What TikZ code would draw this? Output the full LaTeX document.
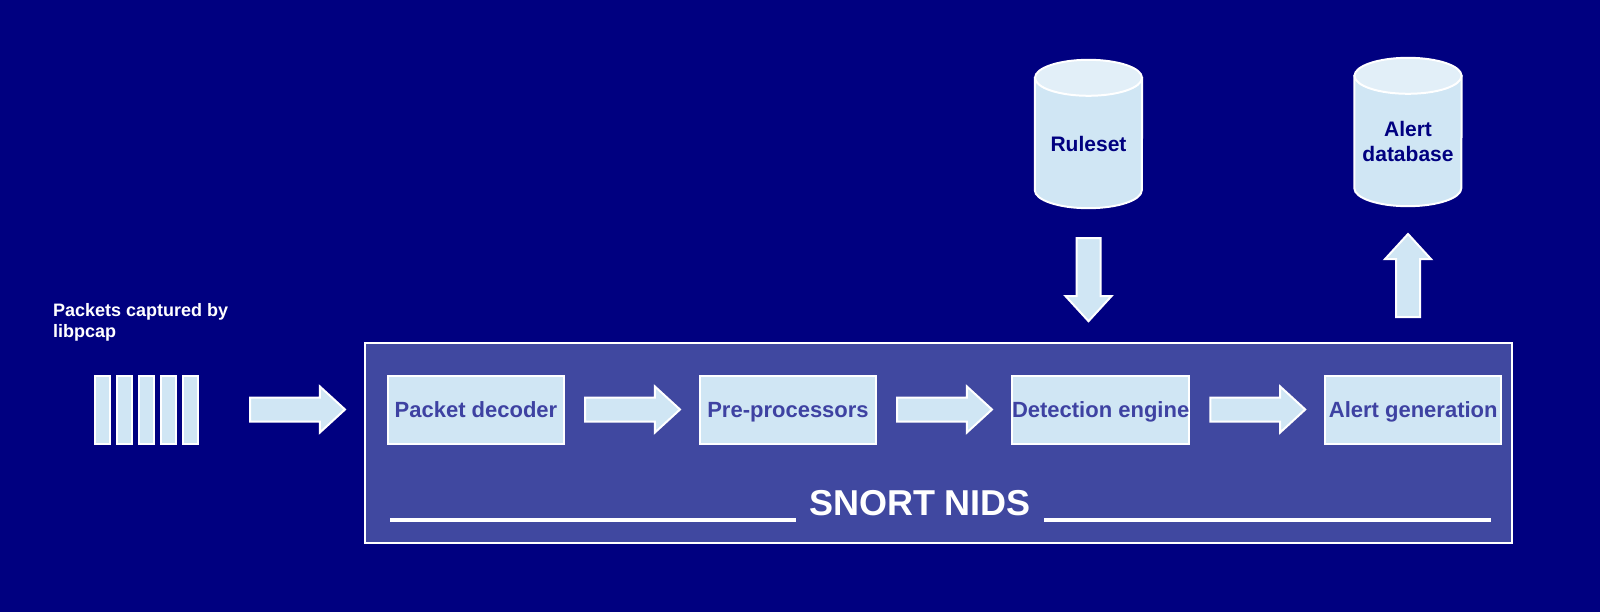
\documentclass[tikz,border=0pt]{standalone}
\usepackage{fontspec}
\setmainfont{Liberation Sans}
\usetikzlibrary{calc,positioning,shapes.arrows}
\definecolor{navybg}{RGB}{0,0,128}
\definecolor{nidsblue}{RGB}{64,72,160}
\definecolor{stageblue}{RGB}{62,66,162}
\definecolor{paleblue}{RGB}{208,230,244}
\definecolor{capblue}{RGB}{226,239,248}
\tikzset{
	% ---- default
	every node/.style={font=\bfseries},
	% ---- custom
	nidsbox/.style={draw=white, fill=nidsblue, line width=2pt, inner sep=0pt},
	stage/.style={draw=white, fill=paleblue, line width=2pt, inner sep=0pt,
		minimum width=176pt, minimum height=68pt, text=stageblue,
		font=\fontsize{22}{26}\selectfont\bfseries, text height=16pt, text depth=0pt},
	packet/.style={draw=white, fill=paleblue, line width=2pt, inner sep=0pt,
		minimum width=15pt, minimum height=68pt},
	blockarrow/.style={single arrow, draw=white, fill=paleblue, line width=2pt,
		inner sep=0pt, outer sep=0pt, minimum height=95pt,
		text width=22pt, text height=22pt, text depth=0pt,
		single arrow head extend=11pt, single arrow tip angle=85},
	dbspace/.style={inner sep=0pt, minimum width=107pt, minimum height=148pt},
	dbbody/.style={draw=white, fill=paleblue, line width=2pt},
	dbtop/.style={draw=white, fill=capblue, line width=2pt},
	dblabel/.style={text=navybg, align=center, font=\fontsize{21}{25}\selectfont\bfseries},
	titleline/.style={white, line width=4pt},
}

\begin{document}
\begin{tikzpicture}[x=1pt, y=-1pt]

% background %{{{2

	\useasboundingbox (0,0) rectangle (1600,612);
	\fill[navybg] (0,0) rectangle (1600,612);

% snort box %{{{2

	\node[nidsbox, minimum width=1147pt, minimum height=200pt] (nids) at (938.5,443) {};

	\node[text=white, font=\fontsize{36}{40}\selectfont\bfseries, anchor=base, inner sep=0pt]
		(title) at (920,515) {SNORT NIDS};
	\draw[titleline] ($(nids.south west)+(26,-24)$) -- ($(nids.south west)+(432,-24)$);
	\draw[titleline] ($(nids.south east)+(-469,-24)$) -- ($(nids.south east)+(-22,-24)$);

% stages %{{{2

	\node[stage] (dec) at (476,409.5) {Packet decoder};
	\node[stage, right=134pt of dec] (pre) {Pre-processors};
	\node[stage, right=134pt of pre] (det) {Detection engine};
	\node[stage, right=134pt of det] (gen) {Alert generation};

% packets %{{{2

	\node[white, align=left, anchor=north west, inner sep=0pt,
		font=\fontsize{18}{21}\selectfont\bfseries] (captext) at (53,303)
		{Packets captured by\\libpcap};

	\foreach \i in {1,...,5}
		\node[packet] (bar\i) at ({102.5+(\i-1)*22},410) {};

% databases %{{{2

	\node[dbspace] (rules) at (1088.5,134) {};
	\draw[dbbody] ($(rules.north west)+(0,18)$) -- ($(rules.south west)+(0,-18)$)
		arc[start angle=180, end angle=0, x radius=53.5, y radius=18]
		-- ($(rules.north east)+(0,18)$) -- cycle;
	\draw[dbtop] ($(rules.north)+(0,18)$) ellipse [x radius=53.5, y radius=18];
	\node[dblabel] (rulestext) at ($(rules.center)+(0,10)$) {Ruleset};

	\node[dbspace] (alertdb) at (1408,132) {};
	\draw[dbbody] ($(alertdb.north west)+(0,18)$) -- ($(alertdb.south west)+(0,-18)$)
		arc[start angle=180, end angle=0, x radius=53.5, y radius=18]
		-- ($(alertdb.north east)+(0,18)$) -- cycle;
	\draw[dbtop] ($(alertdb.north)+(0,18)$) ellipse [x radius=53.5, y radius=18];
	\node[dblabel] (alertdbtext) at ($(alertdb.center)+(0,9)$) {Alert\\database};

% arrows %{{{2

	\node[blockarrow, anchor=tip] (a0) at ($(dec.west -| nids.west)+(-19,0)$) {};
	\node[blockarrow, anchor=tail] (a1) at ($(dec.east)+(20,0)$) {};
	\node[blockarrow, anchor=tail] (a2) at ($(pre.east)+(20,0)$) {};
	\node[blockarrow, anchor=tail] (a3) at ($(det.east)+(20,0)$) {};

	\node[blockarrow, shape border rotate=270, minimum height=83pt, anchor=tail]
		(ain) at ($(rules.south)+(0,30)$) {};
	\node[blockarrow, shape border rotate=90, minimum height=83pt, anchor=tail]
		(aout) at ($(alertdb.south |- nids.north)+(0,-25)$) {};

% closing %{{{2

\end{tikzpicture}
\end{document}
